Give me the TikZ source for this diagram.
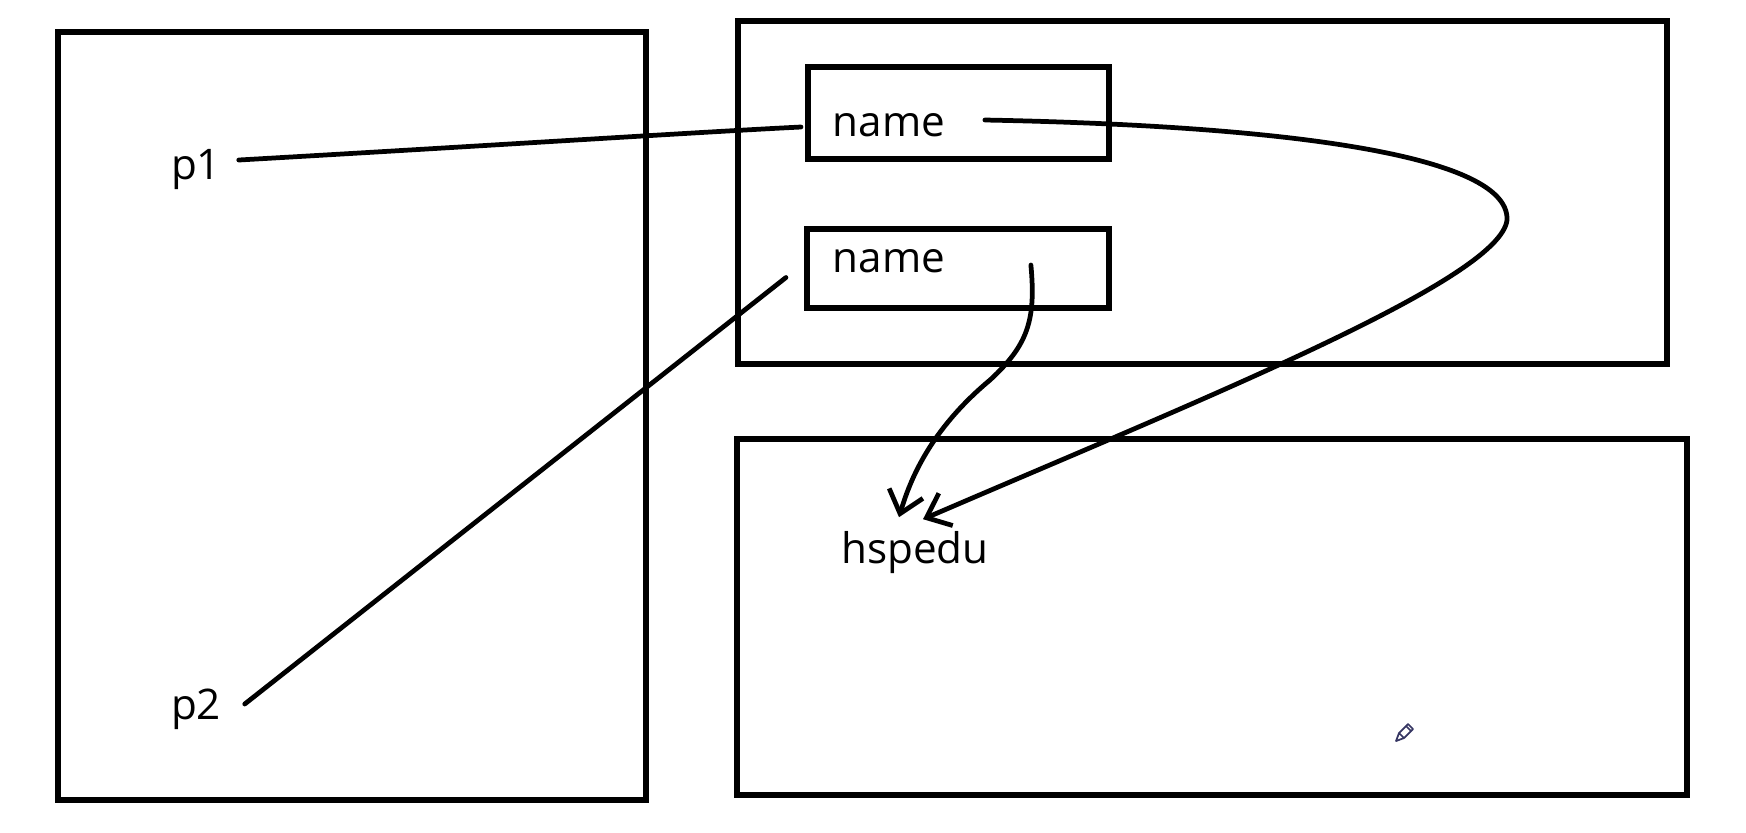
\documentclass[tikz,border=0pt]{standalone}
\usepackage{fontspec}
\setmainfont{Open Sans}
\usepackage{tikz}
\usetikzlibrary{arrows.meta, calc}

\begin{document}
\begin{tikzpicture}[x=0.01cm, y=-0.01cm, >={Straight Barb[length=6pt, width=10pt]},
    frame/.style={line width=1.7pt},
    slot/.style={draw, line width=1.7pt, rectangle, inner sep=0pt},
    label/.style={font=\fontsize{12}{14}\selectfont, inner sep=2pt},
    link/.style={line width=1.35pt, line cap=round}]
    \useasboundingbox (0,0) rectangle (1746,832);
    % Stack frame
    \draw[frame] (58,32) rectangle (646,800);
    % Heap
    \draw[frame] (738,21) rectangle (1667,364);
    % Constant pool
    \draw[frame] (737,439) rectangle (1687,795);
    % Fields of the two objects
    \node[slot, minimum width=3.01cm, minimum height=0.92cm] (slot1) at (958.5,113) {};
    \node[slot, minimum width=3.02cm, minimum height=0.79cm] (slot2) at (958,268.5) {};
    \node[label] (name1) at (889,125) {name};
    \node[label] (name2) at (889,261) {name};
    % References
    \node[label] (p1) at (196,169) {p1};
    \node[label] (p2) at (196,709) {p2};
    % String literal
    \node[label] (hspedu) at (915,553) {hspedu};
    % p1 -> first object
    \draw[link] ($(p1.east)+(10,-9)$) .. controls (500,145) and (700,132) .. ($(slot1.west)+(-4,14)$);
    % p2 -> second object
    \draw[link] ($(p2.east)+(16,-5)$) -- ($(slot2.west)+(-18,9)$);
    % first name -> hspedu
    \draw[link, ->] ($(name1.east)+(32,-5)$) .. controls (1250,125) and (1510,150) .. (1507,220)
        .. controls (1500,280) and (1200,400) .. ($(hspedu.north)+(8,-5)$);
    % second name -> hspedu
    \draw[link, ->] ($(name2.east)+(78,4)$) .. controls (1036,320) and (1028,345) .. (990,380)
        .. controls (930,430) and (910,480) .. ($(hspedu.north)+(-16,-7)$);
    % Pencil cursor
    \draw[gray!70!blue!60!black, line width=0.5pt, line join=round]
        (1396,741) -- (1399,733) -- (1408,724) -- (1413,729) -- (1404,738) -- cycle
        (1399,733) -- (1404,738) (1406,726) -- (1411,731);
\end{tikzpicture}
\end{document}
